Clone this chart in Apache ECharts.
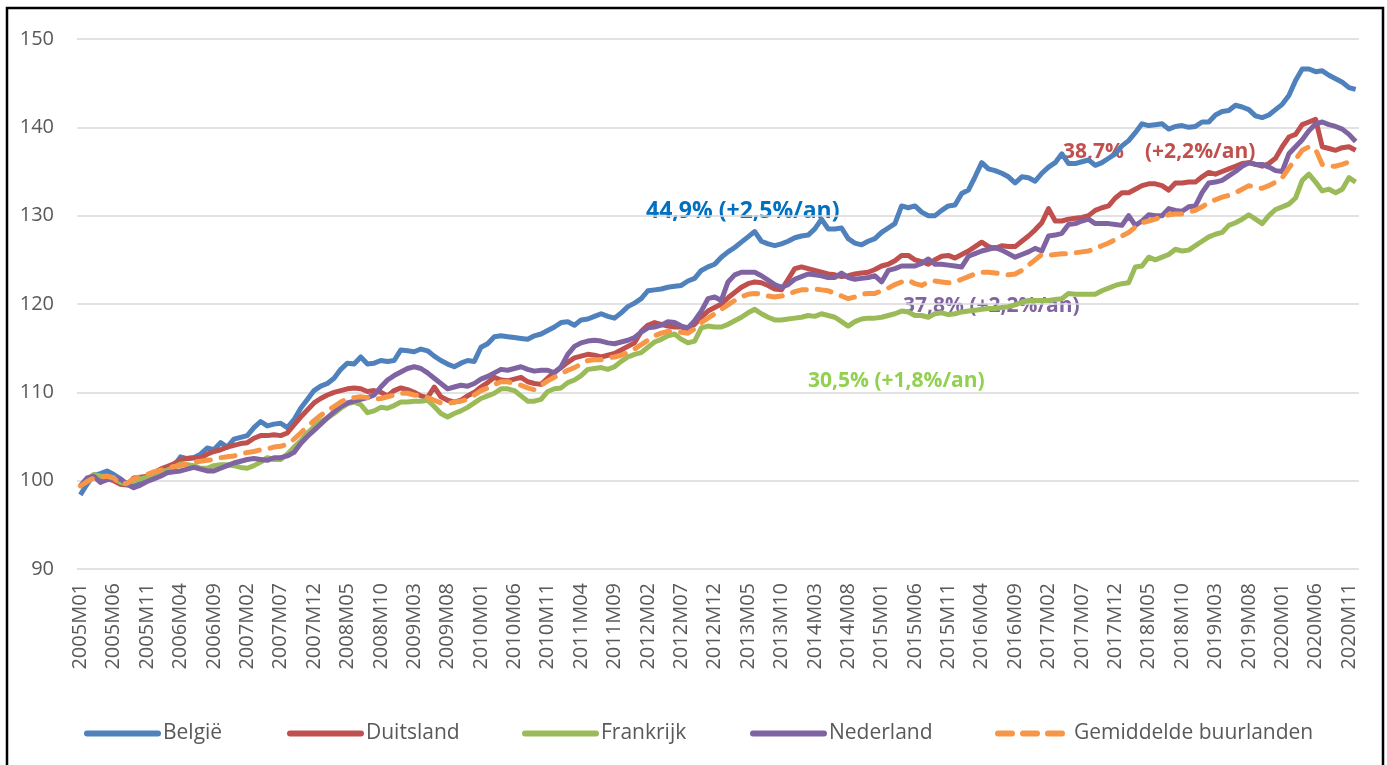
<!DOCTYPE html>
<html>
<head>
<meta charset="utf-8">
<script src="https://cdn.jsdelivr.net/npm/echarts@6/dist/echarts.min.js"></script>
<style>
  html, body { margin: 0; padding: 0; background: #fff; }
  #chart { width: 1387px; height: 765px; }
</style>
</head>
<body>
<div id="chart"></div>
<script>
// maanden 2005M01 .. 2020M12
var years = [2005, 2006, 2007, 2008, 2009, 2010, 2011, 2012, 2013, 2014, 2015, 2016, 2017, 2018, 2019, 2020];
var months = ['01','02','03','04','05','06','07','08','09','10','11','12'];
var categories = [];
years.forEach(function (y) {
    months.forEach(function (m) { categories.push(y + 'M' + m); });
});

var yTicks = { min: 90, max: 150, step: 10 };

var belgie = [
    98.4, 99.6, 100.6, 100.8, 101.1, 100.7, 100.2, 99.6, 99.4, 99.7, 100.1, 100.4,
    100.9, 101.1, 101.6, 102.7, 102.5, 102.6, 103.0, 103.7, 103.5, 104.3, 103.8, 104.7,
    104.9, 105.1, 106.0, 106.7, 106.2, 106.4, 106.5, 106.0, 106.9, 108.2, 109.2, 110.2,
    110.7, 111.0, 111.6, 112.6, 113.3, 113.2, 114.0, 113.2, 113.3, 113.6, 113.5, 113.6,
    114.8, 114.7, 114.6, 114.9, 114.7, 114.1, 113.6, 113.2, 112.9, 113.3, 113.6, 113.5,
    115.1, 115.5, 116.3, 116.4, 116.3, 116.2, 116.1, 116.0, 116.4, 116.6, 117.0, 117.4,
    117.9, 118.0, 117.6, 118.2, 118.3, 118.6, 118.9, 118.6, 118.4, 119.0, 119.7, 120.1,
    120.6, 121.5, 121.6, 121.7, 121.9, 122.0, 122.1, 122.6, 122.9, 123.8, 124.2, 124.5,
    125.3, 125.9, 126.4, 127.0, 127.6, 128.2, 127.1, 126.8, 126.6, 126.8, 127.1, 127.5,
    127.7, 127.8, 128.5, 129.6, 128.5, 128.5, 128.6, 127.4, 126.9, 126.7, 127.1, 127.4,
    128.1, 128.6, 129.1, 131.1, 130.9, 131.1, 130.4, 130.0, 130.0, 130.6, 131.1, 131.2,
    132.5, 132.9, 134.4, 136.0, 135.3, 135.1, 134.8, 134.4, 133.7, 134.4, 134.3, 133.9,
    134.8, 135.5, 136.0, 137.0, 135.9, 135.9, 136.1, 136.3, 135.7, 136.0, 136.5, 137.0,
    137.9, 138.5, 139.4, 140.4, 140.2, 140.3, 140.4, 139.8, 140.1, 140.2, 140.0, 140.1,
    140.6, 140.6, 141.4, 141.8, 141.9, 142.5, 142.3, 142.0, 141.3, 141.1, 141.4, 142.0,
    142.6, 143.6, 145.3, 146.6, 146.6, 146.3, 146.4, 145.9, 145.5, 145.1, 144.5, 144.3
];

var duitsland = [
    99.4, 100.0, 100.5, 100.4, 100.2, 100.0, 99.6, 99.5, 100.3, 100.4, 100.5, 100.9,
    101.3, 101.6, 101.9, 102.4, 102.5, 102.6, 102.6, 103.0, 103.3, 103.5, 103.8, 104.0,
    104.2, 104.3, 104.8, 105.1, 105.1, 105.2, 105.1, 105.4, 106.3, 107.2, 108.0, 108.8,
    109.3, 109.7, 110.0, 110.2, 110.4, 110.5, 110.4, 110.1, 110.2, 110.0, 109.6, 110.2,
    110.5, 110.3, 110.0, 109.6, 109.4, 110.6, 109.5, 109.1, 108.9, 109.1, 109.6, 110.0,
    110.6, 111.1, 111.7, 111.4, 111.3, 111.5, 111.7, 111.2, 111.0, 110.9, 111.6, 112.3,
    112.8, 113.4, 113.9, 114.1, 114.3, 114.2, 114.0, 114.2, 114.4, 114.8, 115.2, 115.6,
    116.9, 117.6, 117.9, 117.7, 117.5, 117.4, 117.4, 117.2, 117.7, 118.5, 119.2, 119.6,
    120.0, 120.7, 121.3, 121.9, 122.3, 122.5, 122.4, 122.1, 121.7, 121.6, 122.8, 124.0,
    124.2, 124.0, 123.8, 123.6, 123.4, 123.3, 123.1, 123.2, 123.4, 123.5, 123.6, 123.9,
    124.3, 124.5, 124.9, 125.5, 125.5, 125.0, 124.8, 124.5, 125.0, 125.4, 125.5, 125.2,
    125.6, 126.0, 126.5, 127.0, 126.5, 126.3, 126.6, 126.5, 126.5, 127.1, 127.7, 128.4,
    129.2, 130.8, 129.4, 129.4, 129.6, 129.7, 129.8, 130.0, 130.6, 130.9, 131.1, 132.0,
    132.6, 132.6, 133.0, 133.4, 133.6, 133.6, 133.4, 132.9, 133.7, 133.7, 133.8, 133.8,
    134.4, 134.9, 134.7, 135.0, 135.3, 135.6, 135.9, 136.0, 135.8, 135.6, 135.9, 136.5,
    137.8, 138.9, 139.2, 140.3, 140.6, 140.9, 137.8, 137.6, 137.4, 137.7, 137.8, 137.4
];

var frankrijk = [
    99.4, 100.1, 100.7, 100.5, 100.5, 100.3, 99.8, 99.6, 100.0, 100.2, 100.4, 100.7,
    101.0, 101.2, 101.5, 101.9, 101.8, 101.7, 101.4, 101.4, 101.7, 101.8, 101.8, 101.7,
    101.5, 101.4, 101.7, 102.1, 102.6, 102.4, 102.4, 103.0, 103.8, 104.5, 105.4, 106.1,
    106.7, 107.1, 107.6, 108.2, 108.7, 108.9, 108.6, 107.7, 107.9, 108.3, 108.2, 108.5,
    108.9, 108.9, 109.0, 109.0, 109.1, 108.4, 107.6, 107.2, 107.6, 107.9, 108.3, 108.8,
    109.3, 109.6, 109.9, 110.4, 110.4, 110.2, 109.6, 109.0, 109.0, 109.2, 110.1, 110.4,
    110.5, 111.1, 111.4, 111.9, 112.6, 112.7, 112.8, 112.6, 112.9, 113.5, 114.0, 114.3,
    114.5, 115.1, 115.7, 116.0, 116.4, 116.6, 116.0, 115.6, 115.8, 117.3, 117.5, 117.4,
    117.4, 117.7, 118.1, 118.5, 119.0, 119.4, 118.9, 118.5, 118.2, 118.2, 118.3, 118.4,
    118.5, 118.7, 118.6, 118.9, 118.7, 118.5, 118.0, 117.5, 118.0, 118.3, 118.4, 118.4,
    118.5, 118.7, 118.9, 119.2, 119.1, 118.7, 118.7, 118.5, 118.9, 119.0, 118.8, 118.9,
    119.1, 119.2, 119.3, 119.4, 119.5, 119.5, 119.6, 119.7, 119.9, 120.2, 120.4, 120.4,
    120.4, 120.4, 120.5, 120.6, 121.2, 121.1, 121.1, 121.1, 121.1, 121.5, 121.8, 122.1,
    122.3, 122.4, 124.2, 124.3, 125.3, 125.0, 125.3, 125.6, 126.2, 126.0, 126.1, 126.6,
    127.1, 127.6, 127.9, 128.1, 128.9, 129.2, 129.6, 130.1, 129.6, 129.1, 130.0, 130.7,
    131.0, 131.3, 132.0, 134.0, 134.7, 133.8, 132.8, 133.0, 132.6, 133.0, 134.3, 133.8
];

var nederland = [
    99.4, 100.3, 100.5, 99.8, 100.1, 100.2, 100.2, 99.6, 99.2, 99.5, 99.9, 100.2,
    100.5, 100.9, 101.0, 101.1, 101.3, 101.5, 101.3, 101.1, 101.1, 101.4, 101.7, 102.0,
    102.2, 102.4, 102.5, 102.4, 102.3, 102.6, 102.6, 102.8, 103.2, 104.2, 105.0, 105.7,
    106.4, 107.1, 107.8, 108.4, 108.8, 109.0, 109.2, 109.4, 109.7, 110.6, 111.4, 111.9,
    112.3, 112.7, 112.9, 112.7, 112.2, 111.6, 111.0, 110.4, 110.6, 110.8, 110.7, 111.0,
    111.5, 111.8, 112.2, 112.6, 112.5, 112.7, 112.9, 112.6, 112.4, 112.5, 112.5, 112.2,
    112.9, 114.3, 115.2, 115.6, 115.8, 115.9, 115.8, 115.6, 115.5, 115.7, 115.9, 116.2,
    116.8, 117.3, 117.4, 117.6, 118.0, 117.9, 117.5, 117.3, 118.1, 119.2, 120.6, 120.8,
    120.4, 122.5, 123.3, 123.6, 123.6, 123.6, 123.2, 122.7, 122.2, 121.9, 122.2, 122.8,
    123.1, 123.4, 123.3, 123.2, 123.0, 123.0, 123.5, 123.0, 122.8, 122.9, 123.0, 123.2,
    122.5, 123.8, 124.0, 124.3, 124.3, 124.3, 124.6, 125.1, 124.5, 124.5, 124.4, 124.3,
    124.2, 125.4, 125.7, 126.0, 126.2, 126.4, 126.1, 125.7, 125.3, 125.6, 125.9, 126.3,
    126.0, 127.7, 127.8, 128.0, 129.0, 129.1, 129.4, 129.6, 129.1, 129.1, 129.1, 129.0,
    128.9, 130.0, 128.9, 129.4, 130.1, 130.0, 130.0, 130.8, 130.6, 130.5, 131.0, 131.1,
    132.6, 133.7, 133.8, 134.0, 134.5, 135.0, 135.6, 136.0, 135.8, 135.8, 135.5, 135.1,
    135.0, 137.0, 137.8, 138.6, 139.6, 140.4, 140.6, 140.3, 140.1, 139.8, 139.2, 138.4
];

var gemiddelde = [
    99.4, 99.9, 100.3, 100.4, 100.5, 100.3, 99.6, 99.7, 100.2, 100.5, 100.7, 101.0,
    101.2, 101.4, 101.6, 101.7, 101.9, 102.1, 102.2, 102.3, 102.4, 102.6, 102.7, 102.8,
    103.0, 103.2, 103.3, 103.5, 103.6, 103.8, 103.9, 104.1, 104.7, 105.4, 106.1, 106.8,
    107.4, 107.9, 108.4, 108.9, 109.3, 109.4, 109.5, 109.4, 109.2, 109.3, 109.5, 109.7,
    109.9, 109.9, 109.7, 109.6, 109.4, 109.1, 108.8, 108.7, 108.9, 109.0, 109.2, 109.7,
    110.2, 110.5, 110.9, 111.2, 111.2, 111.0, 110.8, 110.5, 110.3, 110.8, 111.3, 111.7,
    112.1, 112.5, 112.8, 113.2, 113.6, 113.7, 113.7, 113.9, 114.0, 114.2, 114.5, 114.9,
    115.4, 115.9, 116.4, 116.7, 116.9, 116.9, 116.8, 116.7, 117.2, 117.9, 118.4, 118.9,
    119.4, 119.9, 120.4, 120.8, 121.1, 121.2, 121.1, 120.9, 120.8, 120.9, 121.1, 121.4,
    121.6, 121.6, 121.7, 121.6, 121.5, 121.2, 120.9, 120.6, 120.8, 121.1, 121.2, 121.2,
    121.5, 121.8, 122.2, 122.5, 122.7, 122.3, 122.1, 122.5, 122.6, 122.5, 122.4, 122.5,
    122.8, 123.1, 123.4, 123.6, 123.6, 123.5, 123.4, 123.3, 123.4, 123.8, 124.4, 125.0,
    125.6, 125.5, 125.6, 125.7, 125.7, 125.8, 125.9, 126.0, 126.3, 126.6, 126.9, 127.3,
    127.7, 128.1, 128.7, 129.2, 129.4, 129.6, 129.9, 130.1, 130.2, 130.2, 130.4, 130.6,
    131.0, 131.5, 131.8, 132.1, 132.3, 132.6, 133.0, 133.4, 133.2, 133.1, 133.4, 133.8,
    134.3, 135.4, 136.4, 137.4, 137.8, 137.5, 135.8, 135.6, 135.6, 135.8, 136.1, 135.9
];

var seriesNames = ['België', 'Duitsland', 'Frankrijk', 'Nederland', 'Gemiddelde buurlanden'];
var seriesColors = ['#4F81BD', '#C0504D', '#9BBB59', '#8064A2', '#F79646'];
var seriesData = [belgie, duitsland, frankrijk, nederland, gemiddelde];
var legendLeft = [84, 287, 522, 750, 995];

var fontFam = '"Open Sans", sans-serif';
var chart = echarts.init(document.getElementById('chart'));

var series = seriesData.map(function (d, k) {
    return {
        name: seriesNames[k],
        type: 'line',
        data: d,
        symbol: 'none',
        smooth: false,
        color: seriesColors[k],
        lineStyle: {
            width: 5,
            color: seriesColors[k],
            type: k == 4 ? [14, 11] : 'solid',
            cap: k == 4 ? 'round' : 'butt',
            join: 'round'
        },
        emphasis: { disabled: true }
    };
});

var legends = seriesNames.map(function (n, k) {
    return {
        data: [n],
        left: legendLeft[k],
        top: 723,
        padding: 0,
        itemWidth: 71,
        itemHeight: 22,
        itemStyle: { opacity: 0 },
        lineStyle: { width: 6, cap: 'round' },
        textStyle: { color: '#595959', fontSize: 21, fontFamily: fontFam }
    };
});

function note(txt, x, y, size, col) {
    return {
        type: 'text', left: x, top: y,
        style: { text: txt, fill: col, font: 'bold ' + size + 'px ' + fontFam }
    };
}

var option = {
    animation: false,
    backgroundColor: '#fff',
    grid: { left: 77, right: 28, top: 39, bottom: 196, containLabel: false },
    legend: legends,
    xAxis: {
        type: 'category',
        boundaryGap: true,
        data: categories,
        axisLine: { show: false },
        axisTick: { show: false },
        axisLabel: {
            interval: 4,
            rotate: 90,
            margin: 14,
            color: '#595959',
            fontSize: 20,
            fontFamily: fontFam
        },
        splitLine: { show: false }
    },
    yAxis: {
        type: 'value',
        min: yTicks.min,
        max: yTicks.max,
        interval: yTicks.step,
        axisLine: { show: false },
        axisTick: { show: false },
        axisLabel: { margin: 23, color: '#595959', fontSize: 20, fontFamily: fontFam },
        splitLine: { lineStyle: { color: '#D9D9D9', width: 1.5 } }
    },
    series: series,
    graphic: [
        {
            type: 'rect', silent: true, z: 100,
            shape: { x: 7, y: 8, width: 1376, height: 800 },
            style: { fill: 'none', stroke: '#000', lineWidth: 2.5 }
        },
        note('44,9% (+2,5%/an)', 646, 200, 23, '#0070C0'),
        note('38,7%', 1063, 142, 21, '#C0504D'),
        note('(+2,2%/an)', 1145, 142, 21, '#C0504D'),
        note('37,8% (+2,2%/an)', 903, 296, 21, '#8064A2'),
        note('30,5% (+1,8%/an)', 808, 371, 21, '#92D050')
    ]
};

chart.setOption(option);
</script>
</body>
</html>
